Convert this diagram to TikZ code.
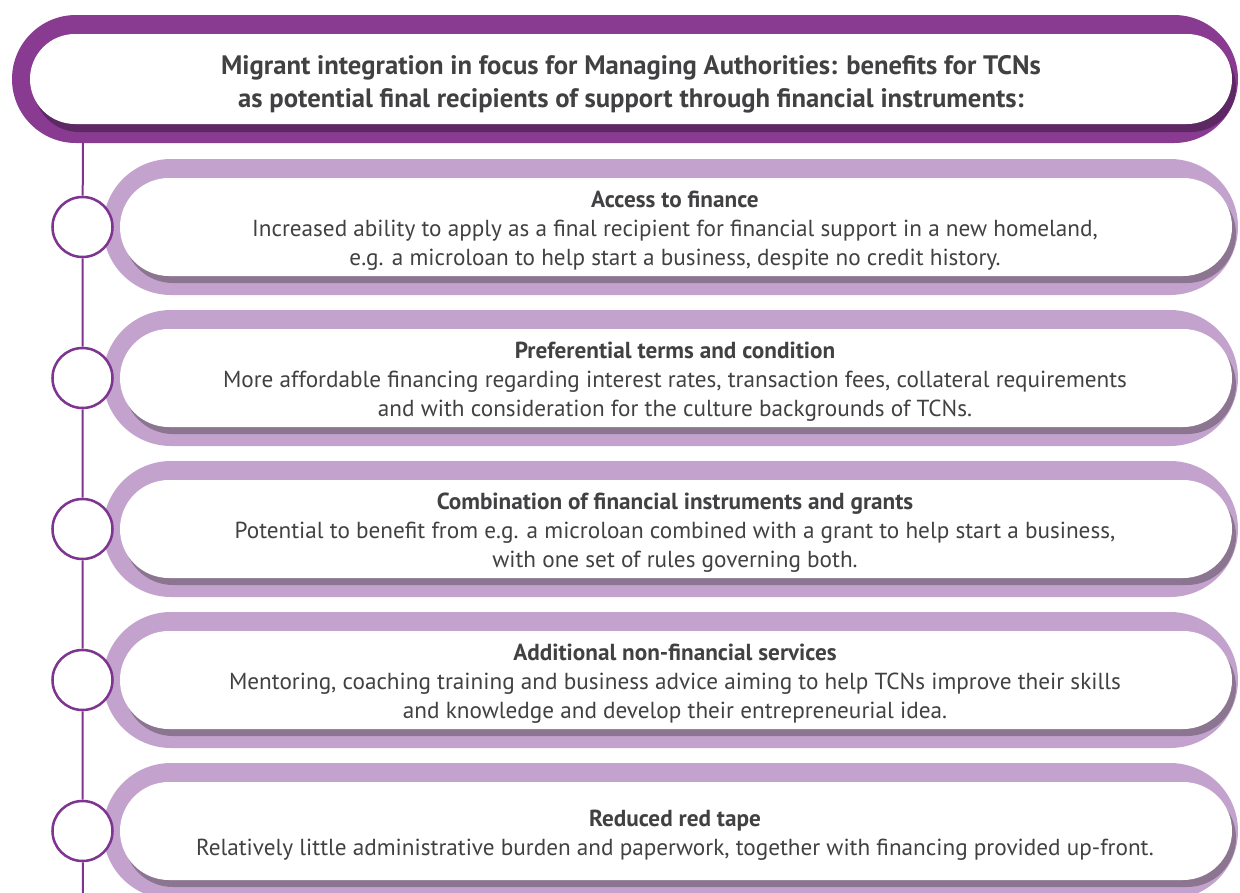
\documentclass[tikz,border=0pt]{standalone}
\usepackage{fontspec}
\setmainfont{PT Sans}
\usetikzlibrary{shapes.misc}

\definecolor{hdrpurple}{RGB}{137,59,146}
\definecolor{hdrshade}{RGB}{94,40,100}
\definecolor{lilac}{RGB}{195,163,205}
\definecolor{lilacshade}{RGB}{140,117,145}
\definecolor{linepurple}{RGB}{125,53,144}
\definecolor{textgray}{RGB}{65,64,66}

\begin{document}
\begin{tikzpicture}[x=0.75pt, y=-0.75pt,
        pill/.style={rounded rectangle, inner sep=0pt, draw=none},
        hdrband/.style={pill, fill=hdrpurple, minimum width=919.5pt, minimum height=96pt},
        hdrshadow/.style={pill, fill=hdrshade, minimum width=901.5pt, minimum height=67.5pt},
        hdrbox/.style={pill, fill=white, minimum width=901.5pt, minimum height=67.5pt},
        hdrtext/.style={align=center, inner sep=0pt, text=textgray, font=\fontsize{20}{24.75}\selectfont\bfseries},
        band/.style={pill, fill=lilac, minimum width=851.25pt, minimum height=102pt},
        bandshadow/.style={pill, fill=lilacshade, minimum width=834pt, minimum height=73.5pt},
        itembox/.style={pill, fill=white, minimum width=834pt, minimum height=73.5pt},
        itemtext/.style={align=center, inner sep=0pt, text=textgray, font=\fontsize{17.4}{21.75}\selectfont},
        dot/.style={circle, draw=linepurple, line width=1.9pt, fill=white, minimum size=45pt, inner sep=0pt},
        stem/.style={draw=linepurple, line width=1.5pt}
    ]
        \useasboundingbox (0,0) rectangle (1240,893);

        % header
        \node[hdrband] (head) at (625,79) {};
        \node[hdrshadow] (headshade) at (635,87) {};
        \node[hdrbox] (headbox) at (631,79) {};
        \node[hdrtext] (headtext) at (631,84.5) {Migrant integration in focus for Managing Authorities: benefits for TCNs\\
            as potential final recipients of support through financial instruments:};

        % benefits
        \node[band] (band1) at (670.5,227) {};
        \node[bandshadow] (shade1) at (680,234) {};
        \node[itembox] (box1) at (676,227) {};
        \node[itemtext] (access) at (675,230.5) {\textbf{Access to finance}\\
            Increased ability to apply as a final recipient for financial support in a new homeland,\\
            e.g. a microloan to help start a business, despite no credit history.};

        \node[band] (band2) at (670.5,378) {};
        \node[bandshadow] (shade2) at (680,385) {};
        \node[itembox] (box2) at (676,378) {};
        \node[itemtext] (terms) at (675,381.5) {\textbf{Preferential terms and condition}\\
            More affordable financing regarding interest rates, transaction fees, collateral requirements\\
            and with consideration for the culture backgrounds of TCNs.};

        \node[band] (band3) at (670.5,529) {};
        \node[bandshadow] (shade3) at (680,536) {};
        \node[itembox] (box3) at (676,529) {};
        \node[itemtext] (combo) at (675,532.5) {\textbf{Combination of financial instruments and grants}\\
            Potential to benefit from e.g. a microloan combined with a grant to help start a business,\\
            with one set of rules governing both.};

        \node[band] (band4) at (670.5,680) {};
        \node[bandshadow] (shade4) at (680,687) {};
        \node[itembox] (box4) at (676,680) {};
        \node[itemtext] (services) at (675,683.5) {\textbf{Additional non-financial services}\\
            Mentoring, coaching training and business advice aiming to help TCNs improve their skills\\
            and knowledge and develop their entrepreneurial idea.};

        \node[band] (band5) at (670.5,831) {};
        \node[bandshadow] (shade5) at (680,838) {};
        \node[itembox] (box5) at (676,831) {};
        \node[itemtext] (redtape) at (675,835.5) {\textbf{Reduced red tape}\\
            Relatively little administrative burden and paperwork, together with financing provided up-front.};

        % timeline
        \coordinate (top) at (83,143);
        \coordinate (bot) at (83,893);
        \node[dot] (c1) at (82.5,227) {};
        \node[dot] (c2) at (82.5,378) {};
        \node[dot] (c3) at (82.5,529) {};
        \node[dot] (c4) at (82.5,680) {};
        \node[dot] (c5) at (82.5,831) {};
        \draw[stem] (top) -- (c1) -- (c2) -- (c3) -- (c4) -- (c5) -- (bot);
    \end{tikzpicture}
\end{document}
